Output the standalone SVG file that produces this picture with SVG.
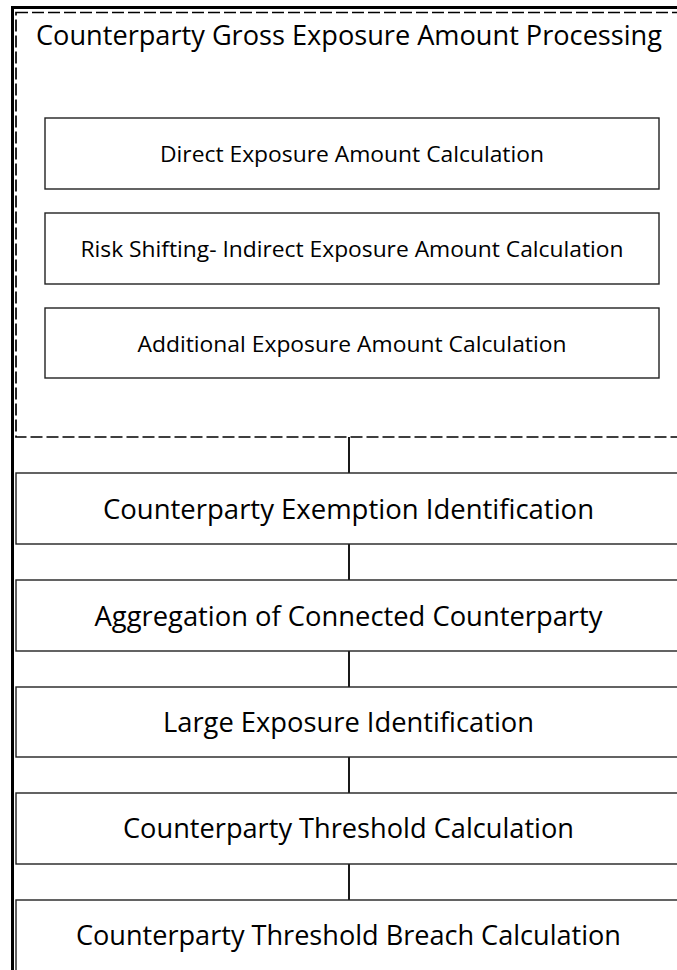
<svg xmlns="http://www.w3.org/2000/svg" width="677" height="970" viewBox="0 0 677 970">
  <style>
    .frame { fill: none; stroke: #000; stroke-width: 3; }
    .group { fill: none; stroke: #000; stroke-width: 1.7; stroke-dasharray: 12 4; }
    .box { fill: #fff; stroke: #222; stroke-width: 1.4; }
    .conn { stroke: #000; stroke-width: 1.8; fill: none; }
    .t { font-family: "Open Sans", "Noto Sans", sans-serif; fill: #000; text-anchor: middle; }
    .big { font-size: 27.5px; }
    .small { font-size: 22px; }
  </style>
  <rect x="0" y="0" width="677" height="970" fill="#fff"/>
  <g id="frame">
    <path class="frame" d="M12.5,970 V7.5 H680"/>
  </g>
  <g id="gross-exposure-processing">
    <rect class="group" x="16" y="12.5" width="665" height="424.5"/>
    <text class="t big" x="349" y="45" textLength="626" lengthAdjust="spacingAndGlyphs">Counterparty Gross Exposure Amount Processing</text>
  </g>
  <g id="direct-exposure">
    <rect class="box" x="45" y="118" width="614" height="71"/>
    <text class="t small" x="352" y="162" textLength="384" lengthAdjust="spacingAndGlyphs">Direct Exposure Amount Calculation</text>
  </g>
  <g id="indirect-exposure">
    <rect class="box" x="45" y="213" width="614" height="71"/>
    <text class="t small" x="352" y="257" textLength="543" lengthAdjust="spacingAndGlyphs">Risk Shifting- Indirect Exposure Amount Calculation</text>
  </g>
  <g id="additional-exposure">
    <rect class="box" x="45" y="308" width="614" height="70"/>
    <text class="t small" x="352" y="351.5" textLength="429" lengthAdjust="spacingAndGlyphs">Additional Exposure Amount Calculation</text>
  </g>
  <g id="connectors">
    <line class="conn" x1="349" y1="437" x2="349" y2="473"/>
    <line class="conn" x1="349" y1="544" x2="349" y2="580"/>
    <line class="conn" x1="349" y1="651" x2="349" y2="687"/>
    <line class="conn" x1="349" y1="757" x2="349" y2="793"/>
    <line class="conn" x1="349" y1="864" x2="349" y2="900"/>
  </g>
  <g id="exemption-identification">
    <rect class="box" x="16" y="473" width="665" height="71"/>
    <text class="t big" x="348.5" y="518.5" textLength="491" lengthAdjust="spacingAndGlyphs">Counterparty Exemption Identification</text>
  </g>
  <g id="aggregation">
    <rect class="box" x="16" y="580" width="665" height="71"/>
    <text class="t big" x="348.5" y="625.5" textLength="508" lengthAdjust="spacingAndGlyphs">Aggregation of Connected Counterparty</text>
  </g>
  <g id="large-exposure">
    <rect class="box" x="16" y="687" width="665" height="70"/>
    <text class="t big" x="348.5" y="731.5" textLength="371" lengthAdjust="spacingAndGlyphs">Large Exposure Identification</text>
  </g>
  <g id="threshold-calculation">
    <rect class="box" x="16" y="793" width="665" height="71"/>
    <text class="t big" x="348.5" y="837.5" textLength="451" lengthAdjust="spacingAndGlyphs">Counterparty Threshold Calculation</text>
  </g>
  <g id="threshold-breach">
    <rect class="box" x="16" y="900" width="665" height="80"/>
    <text class="t big" x="348.5" y="944.5" textLength="545" lengthAdjust="spacingAndGlyphs">Counterparty Threshold Breach Calculation</text>
  </g>
</svg>
